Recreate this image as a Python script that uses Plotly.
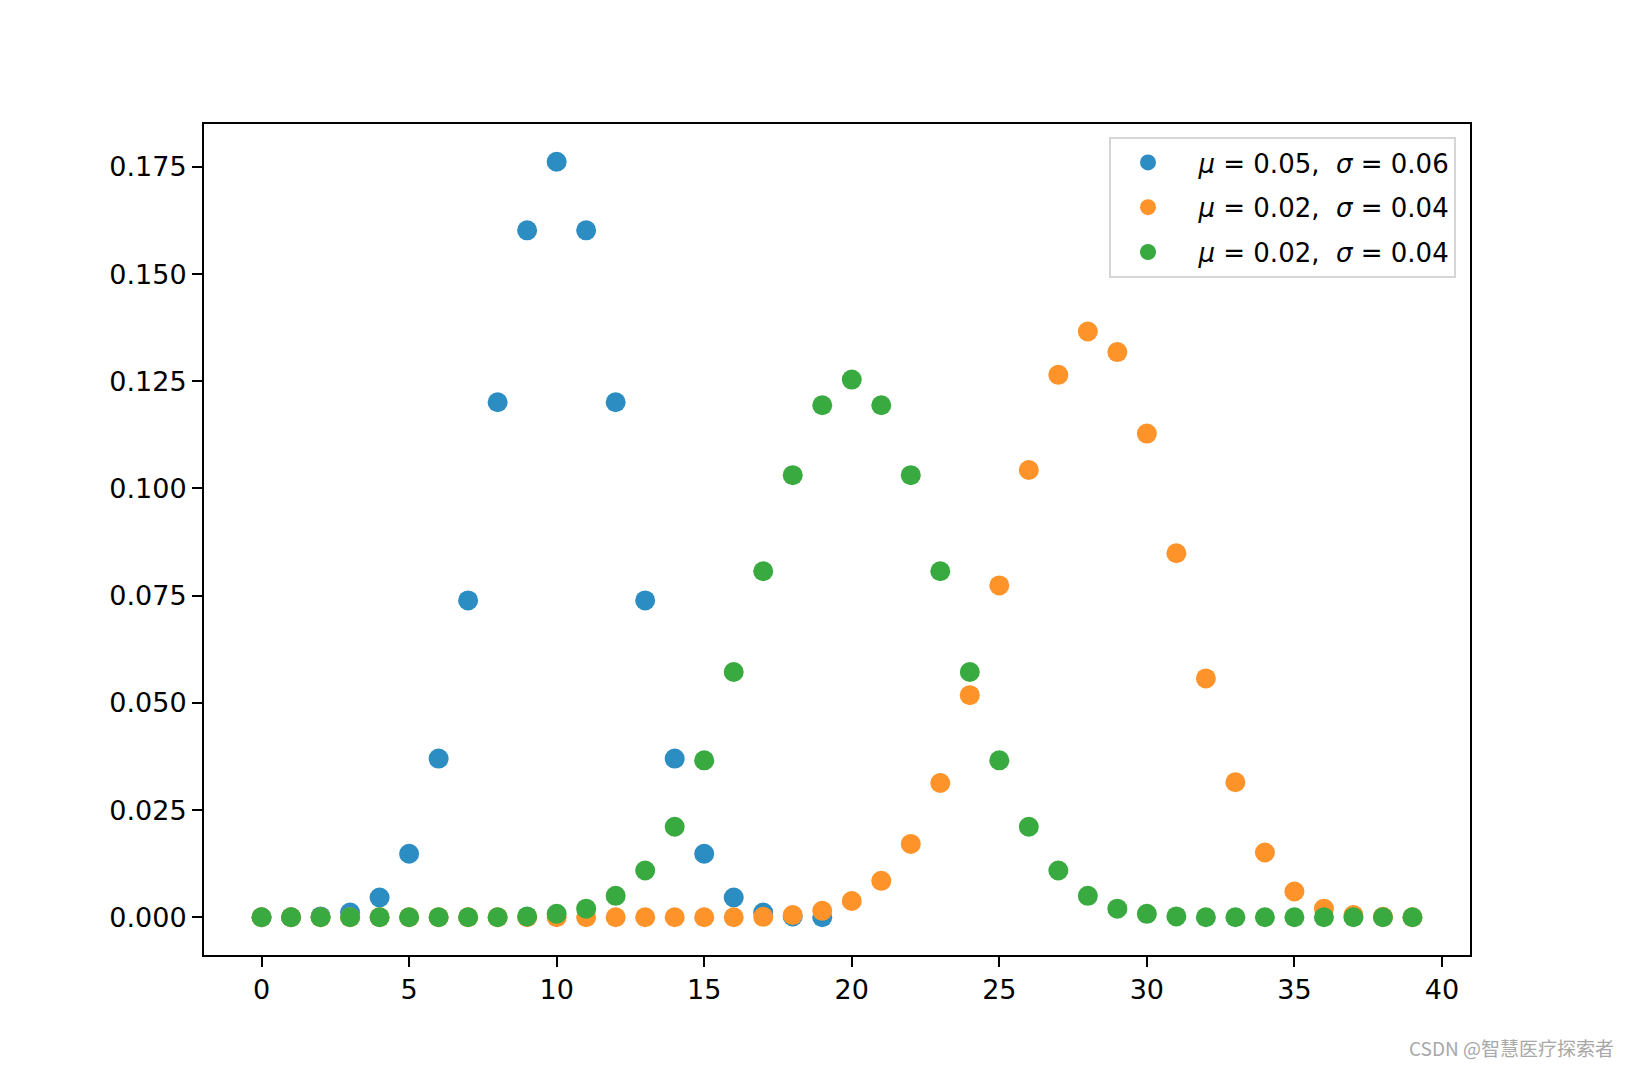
import plotly.graph_objects as go

# ---- data ----
x_blue = list(range(0, 20))
y_blue = [0.0000, 0.0000, 0.0002, 0.0011, 0.0046, 0.0148, 0.0370, 0.0739, 0.1201, 0.1602,
          0.1762, 0.1602, 0.1201, 0.0739, 0.0370, 0.0148, 0.0046, 0.0011, 0.0002, 0.0000]

x_orange = list(range(0, 40))
y_orange = [0.0000, 0.0000, 0.0000, 0.0000, 0.0000, 0.0000, 0.0000, 0.0000, 0.0000, 0.0000,
            0.0000, 0.0000, 0.0000, 0.0000, 0.0000, 0.0000, 0.0000, 0.0001, 0.0005, 0.0015,
            0.0038, 0.0085, 0.0171, 0.0313, 0.0518, 0.0774, 0.1043, 0.1265, 0.1366, 0.1318,
            0.1128, 0.0849, 0.0557, 0.0315, 0.0151, 0.0060, 0.0020, 0.0005, 0.0001, 0.0000]

x_green = list(range(0, 40))
y_green = [0.0000, 0.0000, 0.0000, 0.0000, 0.0000, 0.0000, 0.0000, 0.0000, 0.0000, 0.0002,
           0.0008, 0.0020, 0.0050, 0.0109, 0.0211, 0.0366, 0.0572, 0.0807, 0.1031, 0.1194,
           0.1254, 0.1194, 0.1031, 0.0807, 0.0572, 0.0366, 0.0211, 0.0109, 0.0050, 0.0020,
           0.0008, 0.0002, 0.0000, 0.0000, 0.0000, 0.0000, 0.0000, 0.0000, 0.0000, 0.0000]

names = ["\u00a0\u2009<i>μ</i> = 0.05,  <i>σ</i> = 0.06",
         "\u00a0\u2009<i>μ</i> = 0.02,  <i>σ</i> = 0.04",
         "\u00a0\u2009<i>μ</i> = 0.02,  <i>σ</i> = 0.04"]
colors = ["#2c8dc3", "#fe9329", "#39aa40"]

watermark = "CSDN @智慧医疗探索者"

# page body has an 8px margin; figure spans page px 8..1622 x 8..1064
W, H = 1614, 1056
OFF = 8
L, R, T, B = 204, 1470, 124, 955   # plot area in page pixels

fig = go.Figure()
for i, (xs, ys) in enumerate([(x_blue, y_blue), (x_orange, y_orange), (x_green, y_green)]):
    fig.add_trace(go.Scatter(
        x=xs, y=ys, mode="markers", name=names[i], legendgroup=f"g{i}",
        marker=dict(color=colors[i], size=20, line=dict(width=0)),
    ))

axis_common = dict(
    showline=True, mirror=True, linecolor="black", linewidth=2,
    ticks="outside", ticklen=10, tickwidth=2, tickcolor="black",
    showgrid=False, zeroline=False,
    tickfont=dict(family="DejaVu Sans", size=27, color="black"),
)

fig.update_xaxes(range=[-1.95, 40.95], dtick=5, tick0=0, **axis_common)
fig.update_yaxes(range=[-0.0088, 0.1850], dtick=0.025, tick0=0, tickformat=".3f", **axis_common)

fig.update_layout(
    width=W, height=H,
    margin=dict(l=L - OFF, r=W + OFF - R, t=T - OFF, b=H + OFF - B, pad=0),
    plot_bgcolor="white", paper_bgcolor="white",
    font=dict(family="DejaVu Sans", size=26, color="black"),
    showlegend=True,
    legend=dict(
        x=(1456 - L) / (R - L), y=(B - 137) / (B - T),
        xanchor="right", yanchor="top",
        bgcolor="white", bordercolor="#d6d6d6", borderwidth=2,
        font=dict(family="DejaVu Sans", size=26, color="black"),
        tracegroupgap=8, itemwidth=64,
    ),
    annotations=[dict(
        text=watermark, xref="paper", yref="paper",
        x=(1616 - L) / (R - L), y=(B - 1063) / (B - T),
        xanchor="right", yanchor="bottom", showarrow=False,
        font=dict(family="Noto Sans CJK SC", size=19, color="#a8a8a8"),
    )],
)

fig.write_html("out.html")
